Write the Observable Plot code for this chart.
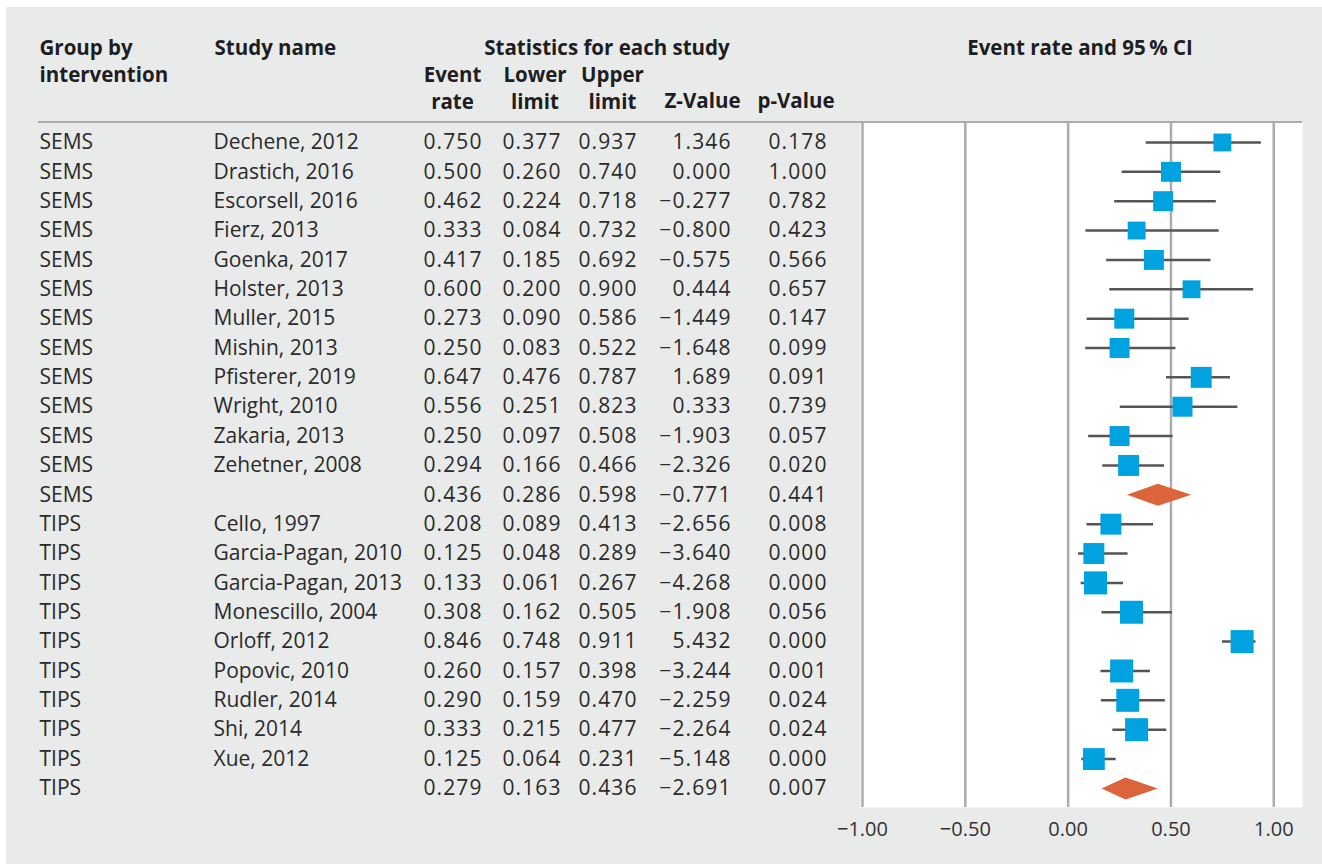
<!DOCTYPE html>
<html><head><meta charset="utf-8">
<script src="https://cdn.jsdelivr.net/npm/d3@7"></script>
<script src="https://cdn.jsdelivr.net/npm/@observablehq/plot@0.6"></script>
<style>
html,body{margin:0;padding:0;background:#fff;}
#panel{position:absolute;left:6px;top:7px;width:1316px;height:857px;background:#e9eaea;}
#chart{position:absolute;left:0;top:0;}
#rule{position:absolute;left:38px;top:121px;width:1264px;height:2px;background:#acacac;}
.num text{letter-spacing:1.1px;}
</style></head><body>
<div id="panel"></div>
<div id="chart"></div>
<div id="rule"></div>
<script>
// ---- data ----
const groups = ["SEMS","SEMS","SEMS","SEMS","SEMS","SEMS","SEMS","SEMS","SEMS","SEMS","SEMS","SEMS","SEMS",
  "TIPS","TIPS","TIPS","TIPS","TIPS","TIPS","TIPS","TIPS","TIPS","TIPS"];
const studies = ["Dechene, 2012","Drastich, 2016","Escorsell, 2016","Fierz, 2013","Goenka, 2017","Holster, 2013",
  "Muller, 2015","Mishin, 2013","Pfisterer, 2019","Wright, 2010","Zakaria, 2013","Zehetner, 2008","",
  "Cello, 1997","Garcia-Pagan, 2010","Garcia-Pagan, 2013","Monescillo, 2004","Orloff, 2012","Popovic, 2010",
  "Rudler, 2014","Shi, 2014","Xue, 2012",""];
const eventRate = [0.750,0.500,0.462,0.333,0.417,0.600,0.273,0.250,0.647,0.556,0.250,0.294,0.436,
  0.208,0.125,0.133,0.308,0.846,0.260,0.290,0.333,0.125,0.279];
const lowerLimit = [0.377,0.260,0.224,0.084,0.185,0.200,0.090,0.083,0.476,0.251,0.097,0.166,0.286,
  0.089,0.048,0.061,0.162,0.748,0.157,0.159,0.215,0.064,0.163];
const upperLimit = [0.937,0.740,0.718,0.732,0.692,0.900,0.586,0.522,0.787,0.823,0.508,0.466,0.598,
  0.413,0.289,0.267,0.505,0.911,0.398,0.470,0.477,0.231,0.436];
const zValue = [1.346,0.000,-0.277,-0.800,-0.575,0.444,-1.449,-1.648,1.689,0.333,-1.903,-2.326,-0.771,
  -2.656,-3.640,-4.268,-1.908,5.432,-3.244,-2.259,-2.264,-5.148,-2.691];
const pValue = [0.178,1.000,0.782,0.423,0.566,0.657,0.147,0.099,0.091,0.739,0.057,0.020,0.441,
  0.008,0.000,0.000,0.056,0.000,0.001,0.024,0.024,0.000,0.007];
// relative study weights; null for pooled rows
const weight = [32,40,40,32,40,32,40,40,44,40,40,44,null,
  44,44,53,53,53,53,53,53,48,null];
const xTicks = [-1,-0.5,0,0.5,1];
const headerLabels = {
  group: ["Group by","intervention"],
  study: ["Study name"],
  stats: ["Statistics for each study"],
  event: ["Event","rate"],
  lower: ["Lower","limit"],
  upper: ["Upper","limit"],
  z: ["Z-Value"],
  p: ["p-Value"],
  ci: ["Event rate and 95\u2009% CI"]
};

// ---- build ----
const rows = groups.map((g,i)=>({i, group:g, study:studies[i], est:eventRate[i], lo:lowerLimit[i],
  hi:upperLimit[i], z:zValue[i], p:pValue[i], w:weight[i], summary: studies[i]===""}));
const studyRows = rows.filter(d=>!d.summary);
const sumRows = rows.filter(d=>d.summary);
const halfH = 0.375;
const diamond = sumRows.flatMap(d=>[
  {k:d.i,x:d.lo,y:d.i},{k:d.i,x:d.est,y:d.i-halfH},{k:d.i,x:d.hi,y:d.i},{k:d.i,x:d.est,y:d.i+halfH}]);
const fmt = d3.format(".3f");

const ML = 860, MT = 122;
const txt = "#2b2b2b";
function col(field, x, anchor, cls){
  return Plot.text(rows, {y:"i", text: field, frameAnchor:"left", dx: x-ML, textAnchor: anchor, fill: txt,
    fontSize: 21, className: cls});
}
function hdr(lines, x, y0, anchor){
  return lines.map((s,j)=>Plot.text([s], {text:d=>d, frameAnchor:"top-left", dx:x-ML, dy:(y0+j*26.5)-MT,
    textAnchor:anchor, lineAnchor:"middle", fontWeight:"bold", fontSize:20.5, fill:"#1e1e1e"}));
}

const chart = Plot.plot({
  width:1322, height:864,
  marginTop:MT, marginBottom:57, marginLeft:ML, marginRight:20,
  style:{background:"transparent", fontFamily:"'Open Sans', sans-serif", fontSize:"20px", color:"#333"},
  x:{domain:[-1.0097,1.1396], ticks:xTicks, tickFormat:d3.format(".2f"), tickSize:0, tickPadding:14, label:null},
  y:{domain:[-0.68,22.65], reverse:true, axis:null},
  r:{type:"sqrt", domain:[0,53], range:[0,12.98]},
  marks:[
    Plot.frame({fill:"white", stroke:null}),
    Plot.ruleX(xTicks, {stroke:"#acacac", strokeWidth:2.5}),
    Plot.link(studyRows, {x1:"lo", x2:"hi", y1:"i", y2:"i", stroke:"#555", strokeWidth:2.5}),
    Plot.dot(studyRows, {x:"est", y:"i", r:"w", symbol:"square", fill:"#00a2df", stroke:null}),
    Plot.line(diamond, {x:"x", y:"y", z:"k", fill:"#dd643a", stroke:"none", curve:"linear-closed"}),
    col("group", 39, "start"),
    col("study", 213, "start"),
    col(d=>fmt(d.est), 482, "end", "num"),
    col(d=>fmt(d.lo), 561, "end", "num"),
    col(d=>fmt(d.hi), 637, "end", "num"),
    col(d=>fmt(d.z), 731, "end", "num"),
    col(d=>fmt(d.p), 827, "end", "num"),
    ...hdr(headerLabels.group, 39, 48, "start"),
    ...hdr(headerLabels.study, 214, 48, "start"),
    ...hdr(headerLabels.stats, 606.5, 48, "middle"),
    ...hdr(headerLabels.event, 452, 75, "middle"),
    ...hdr(headerLabels.lower, 534.5, 75, "middle"),
    ...hdr(headerLabels.upper, 612, 75, "middle"),
    ...hdr(headerLabels.z, 702, 101, "middle"),
    ...hdr(headerLabels.p, 795.5, 101, "middle"),
    ...hdr(headerLabels.ci, 1079.5, 48, "middle")
  ]
});
document.getElementById("chart").appendChild(chart);
</script>
</body></html>
